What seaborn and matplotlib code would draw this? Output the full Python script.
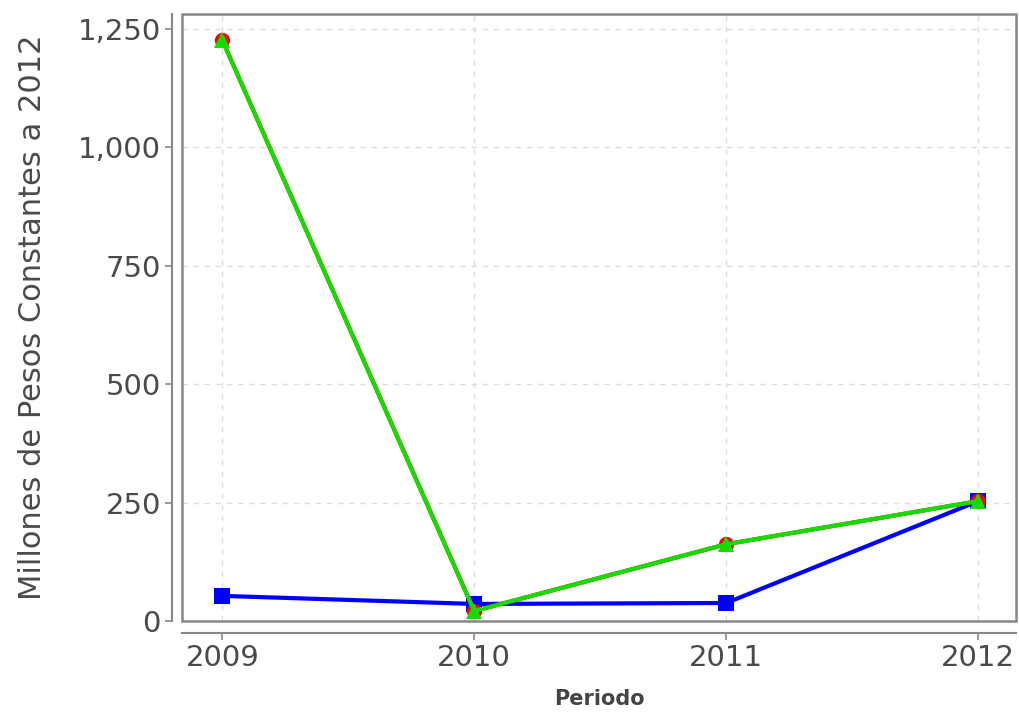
import matplotlib
matplotlib.use("Agg")
import matplotlib.pyplot as plt
from matplotlib.patches import Rectangle
from matplotlib.ticker import FuncFormatter
import seaborn as sns
import pandas as pd

# values
years = [2009, 2010, 2011, 2012]
serie_azul = [53, 36, 38, 253]
serie_roja = [1226, 21, 162, 253]
serie_verde = [1226, 21, 162, 253]

sns.set_style("white")
plt.rcParams['font.family'] = ['DejaVu Sans']

fig = plt.figure(figsize=(10.2, 7.14), dpi=100)
ax = fig.add_axes([182 / 1020, 1 - 621 / 714, (1016 - 182) / 1020, (621 - 14) / 714])

df = pd.DataFrame({"Periodo": years, "azul": serie_azul,
                   "roja": serie_roja, "verde": serie_verde})

sns.lineplot(data=df, x="Periodo", y="azul", ax=ax, color="#0000ff", lw=3,
             marker="s", markersize=11, markeredgewidth=0, zorder=3)
sns.lineplot(data=df, x="Periodo", y="roja", ax=ax, color="#ff0000", lw=3,
             marker="o", markersize=11, markeredgewidth=0, zorder=4)
sns.lineplot(data=df, x="Periodo", y="verde", ax=ax, color="#11dd00", lw=3,
             marker="^", markersize=11, markeredgewidth=0, zorder=5)

ax.set_xlim(2008.84, 2012.15)
ax.set_ylim(0, 1281)
ax.set_xticks(years)
ax.set_yticks([0, 250, 500, 750, 1000, 1250])
ax.yaxis.set_major_formatter(FuncFormatter(lambda v, p: f"{int(v):,}"))

ax.grid(True, color="#dddddd", linestyle=(0, (4, 4)), lw=1)
ax.set_axisbelow(True)

# grey plot frame, axis lines drawn outside it
for s in ["top", "right"]:
    ax.spines[s].set_visible(False)
ax.spines["left"].set_position(("outward", 7.2))
ax.spines["bottom"].set_position(("outward", 8.6))
for s in ["left", "bottom"]:
    ax.spines[s].set_color("#888888")
    ax.spines[s].set_linewidth(1.5)
ax.add_patch(Rectangle((0, 0), 1, 1, transform=ax.transAxes, fill=False,
                       edgecolor="#888888", lw=1.8, clip_on=False, zorder=10))

ax.tick_params(axis="both", colors="#888888", labelcolor="#4a4a4a",
               labelsize=21, length=5, width=1.2, direction="out",
               left=True, bottom=True, pad=3)

ax.set_xlabel("Periodo", fontsize=15, fontweight="bold", color="#444444")
ax.set_ylabel("Millones de Pesos Constantes a 2012", fontsize=22,
              color="#4a4a4a")
ax.xaxis.set_label_coords(0.5, -0.112)
ax.yaxis.set_label_coords(-0.162, 0.5)

fig.savefig("out.png", dpi=100)
